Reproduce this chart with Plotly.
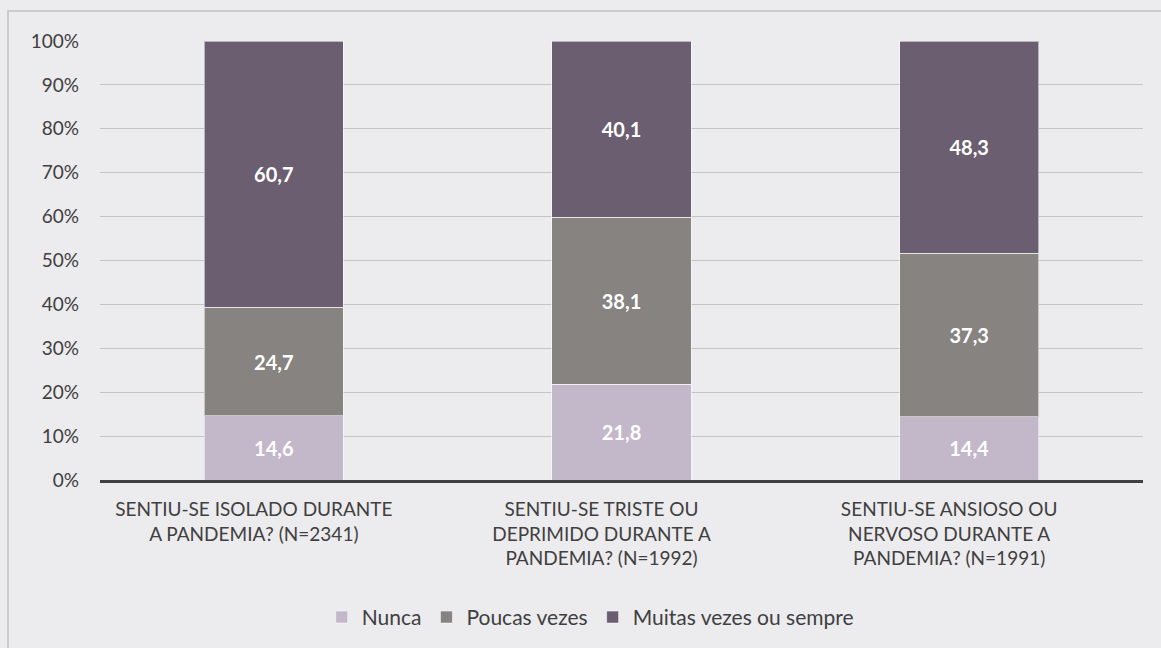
import plotly.graph_objects as go

categories = [
    "SENTIU-SE ISOLADO DURANTE<br>A PANDEMIA? (N=2341)",
    "SENTIU-SE TRISTE OU<br>DEPRIMIDO DURANTE A<br>PANDEMIA? (N=1992)",
    "SENTIU-SE ANSIOSO OU<br>NERVOSO DURANTE A<br>PANDEMIA? (N=1991)",
]
nunca = [14.6, 21.8, 14.4]
poucas = [24.7, 38.1, 37.3]
muitas = [60.7, 40.1, 48.3]
tick_vals = [0, 10, 20, 30, 40, 50, 60, 70, 80, 90, 100]
tick_text = ["0%", "10%", "20%", "30%", "40%", "50%", "60%", "70%", "80%", "90%", "100%"]

FONT = "Lato, 'Open Sans', sans-serif"
series = [
    ("Nunca", nunca, "#C3B8CA"),
    ("Poucas vezes", poucas, "#868381"),
    ("Muitas vezes ou sempre", muitas, "#6A5E70"),
]

fig = go.Figure()
for name, vals, color in series:
    fig.add_trace(go.Bar(
        x=categories, y=vals, name=name,
        marker=dict(color=color, line=dict(color="rgba(255,255,255,0.55)", width=1)),
        texttemplate="<b>%{y:.1f}</b>", textposition="inside",
        insidetextanchor="middle",
        textfont=dict(color="white", size=20, family=FONT),
        hoverinfo="skip",
    ))

fig.update_layout(
    barmode="stack",
    bargap=0.6,
    width=1161, height=648,
    margin=dict(l=100, r=18, t=41, b=167),
    paper_bgcolor="#ECEBEE",
    plot_bgcolor="rgba(0,0,0,0)",
    separators=",.",
    font=dict(family=FONT, color="#404040", size=19),
    legend=dict(orientation="h", x=0.47, xanchor="center", y=-0.31, yanchor="middle",
                font=dict(size=21, color="#404040"), traceorder="normal",
                itemwidth=30, bgcolor="rgba(0,0,0,0)"),
    xaxis=dict(showline=True, linecolor="#404040", linewidth=3, ticks="",
               ticklabelstandoff=10, ticklabelshift=-20,
               tickfont=dict(size=19, color="#404040")),
    yaxis=dict(range=[0, 100], tickvals=tick_vals, ticktext=tick_text,
               showgrid=True, gridcolor="#C4C4C4", gridwidth=1,
               zeroline=False, ticklabelstandoff=20,
               tickfont=dict(size=19, color="#404040")),
    shapes=[dict(type="rect", xref="paper", yref="paper",
                 x0=(8 - 100) / 1043, x1=1.2, y0=-0.6, y1=1 + (41 - 11) / 440,
                 line=dict(color="#C2C2C2", width=1.5), fillcolor="rgba(0,0,0,0)",
                 layer="below")],
)

fig.write_html("out.html", config={"displayModeBar": False},
               post_script="document.body.style.margin='0';document.body.style.background='#ECEBEE';")
